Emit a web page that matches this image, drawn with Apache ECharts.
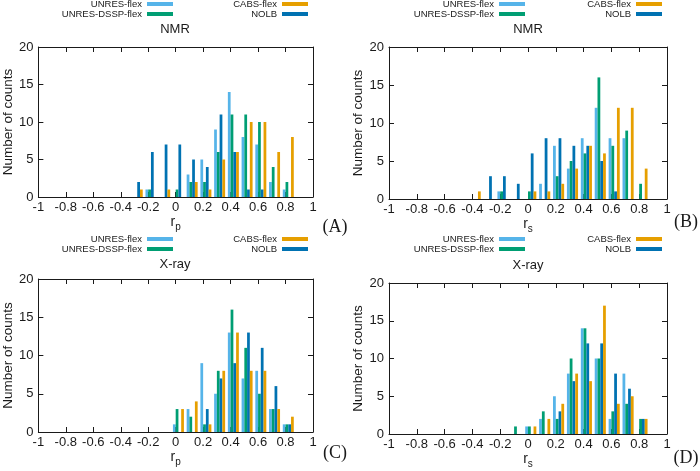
<!DOCTYPE html>
<html>
<head>
<meta charset="utf-8">
<script src="https://cdn.jsdelivr.net/npm/echarts@6/dist/echarts.min.js"></script>
<style>html,body{margin:0;padding:0;background:#fff}#c{width:700px;height:471px}</style>
</head>
<body>
<div id="c"></div>
<script>
// ---- data (bin start values and counts) ----
const seriesNames = ['UNRES-flex', 'UNRES-DSSP-flex', 'NOLB', 'CABS-flex'];
const xTicks = [-1, -0.8, -0.6, -0.4, -0.2, 0, 0.2, 0.4, 0.6, 0.8, 1];

// (A) NMR, r_p
const binsA = [-0.3, -0.2, -0.1, 0, 0.1, 0.2, 0.3, 0.4, 0.5, 0.6, 0.7, 0.8];
const unresA = [0, 1, 0, 0, 3, 5, 9, 14, 8, 7, 2, 1];
const dsspA  = [0, 1, 0, 1, 2, 2, 6, 11, 11, 10, 4, 2];
const nolbA  = [2, 6, 7, 7, 5, 4, 11, 6, 1, 1, 0, 0];
const cabsA  = [1, 0, 1, 0, 2, 1, 5, 6, 10, 10, 6, 8];

// (B) NMR, r_s
const binsB = [-0.4, -0.3, -0.2, -0.1, 0, 0.1, 0.2, 0.3, 0.4, 0.5, 0.6, 0.7, 0.8];
const unresB = [0, 0, 1, 0, 0, 2, 7, 4, 8, 12, 8, 8, 0];
const dsspB  = [0, 0, 1, 0, 1, 0, 3, 5, 6, 16, 7, 9, 2];
const nolbB  = [0, 3, 3, 2, 6, 8, 8, 7, 7, 5, 1, 0, 0];
const cabsB  = [1, 0, 0, 0, 1, 1, 2, 4, 7, 6, 12, 12, 4];

// (C) X-ray, r_p
const binsC = [0, 0.1, 0.2, 0.3, 0.4, 0.5, 0.6, 0.7, 0.8];
const unresC = [1, 3, 9, 5, 13, 7, 8, 3, 1];
const dsspC  = [3, 2, 1, 8, 16, 11, 5, 3, 1];
const nolbC  = [0, 0, 3, 7, 9, 13, 11, 6, 1];
const cabsC  = [3, 4, 1, 8, 13, 8, 8, 3, 2];

// (D) X-ray, r_s
const binsD = [-0.1, 0, 0.1, 0.2, 0.3, 0.4, 0.5, 0.6, 0.7, 0.8];
const unresD = [0, 1, 2, 5, 8, 14, 10, 2, 8, 0];
const dsspD  = [1, 1, 3, 2, 10, 14, 10, 3, 4, 2];
const nolbD  = [0, 0, 0, 3, 7, 12, 12, 8, 6, 2];
const cabsD  = [0, 1, 2, 4, 8, 7, 17, 4, 5, 2];

// ---- styling / layout ----
const colors = {'UNRES-flex': '#56B4E9', 'UNRES-DSSP-flex': '#009E73', 'NOLB': '#0072B2', 'CABS-flex': '#E69F00'};
const BAR_SHIFT = 0.02; // group offset of bars relative to bin start
const FONT = "'Liberation Sans', Arial, sans-serif";
const INK = '#1a1a1a';

const panels = [
  {bins: binsA, vals: [unresA, dsspA, nolbA, cabsA], grid: {left: 37, top: 47, width: 276, height: 150}, title: 'NMR', sub: 'p', tag: '(A)', titlePos: [175, 29], tagPos: [335, 227], legTop: -1, legR: [527, 392]},
  {bins: binsB, vals: [unresB, dsspB, nolbB, cabsB], grid: {left: 389, top: 47, width: 278, height: 152}, title: 'NMR', sub: 's', tag: '(B)', titlePos: [528, 29], tagPos: [686, 222], legTop: -1, legR: [175, 38]},
  {bins: binsC, vals: [unresC, dsspC, nolbC, cabsC], grid: {left: 37, top: 279, width: 276, height: 153}, title: 'X-ray', sub: 'p', tag: '(C)', titlePos: [175, 264], tagPos: [335, 453], legTop: 234, legR: [527, 392]},
  {bins: binsD, vals: [unresD, dsspD, nolbD, cabsD], grid: {left: 389, top: 283, width: 278, height: 151}, title: 'X-ray', sub: 's', tag: '(D)', titlePos: [528, 265], tagPos: [686, 458], legTop: 234, legR: [175, 38]}
];

const grid = [], xAxis = [], yAxis = [], series = [], legend = [], graphic = [];
const lineStyle = {color: INK, width: 1};

panels.forEach((p, gi) => {
  grid.push(Object.assign({}, p.grid));
  // bottom x axis (with labels)
  xAxis.push({
    type: 'value', gridIndex: gi, min: -1, max: 1, interval: 0.2, position: 'bottom',
    axisLine: {show: true, onZero: false, lineStyle},
    axisTick: {show: true, inside: true, length: 5, lineStyle},
    axisLabel: {show: true, margin: 4, fontSize: 13, color: INK, fontFamily: FONT,
      customValues: xTicks},
    splitLine: {show: false},
    name: '{r|r}{s|' + p.sub + '}', nameLocation: 'middle', nameGap: 12,
    nameTextStyle: {rich: {
      r: {fontSize: 14, fontFamily: FONT, color: INK, verticalAlign: 'top', lineHeight: 14},
      s: {fontSize: 10, fontFamily: FONT, color: INK, verticalAlign: 'top', padding: [7, 0, 0, 0], lineHeight: 10}
    }}
  });
  // top mirror axis
  xAxis.push({
    type: 'value', gridIndex: gi, min: -1, max: 1, interval: 0.2, position: 'top',
    axisLine: {show: true, onZero: false, lineStyle},
    axisTick: {show: true, inside: true, length: 5, lineStyle},
    axisLabel: {show: false}, splitLine: {show: false}
  });
  yAxis.push({
    type: 'value', gridIndex: gi, min: 0, max: 20, interval: 5, position: 'left',
    axisLine: {show: true, onZero: false, lineStyle},
    axisTick: {show: true, inside: true, length: 5, lineStyle},
    axisLabel: {show: true, margin: 5, fontSize: 13, color: INK, fontFamily: FONT},
    splitLine: {show: false},
    name: 'Number of counts', nameLocation: 'middle', nameRotate: 90, nameGap: 22,
    nameTextStyle: {fontSize: 13.5, color: INK, fontFamily: FONT}
  });
  yAxis.push({
    type: 'value', gridIndex: gi, min: 0, max: 20, interval: 5, position: 'right',
    axisLine: {show: true, onZero: false, lineStyle},
    axisTick: {show: true, inside: true, length: 5, lineStyle},
    axisLabel: {show: false}, splitLine: {show: false}
  });
  seriesNames.forEach((name, si) => {
    series.push({
      type: 'bar', name, xAxisIndex: gi * 2, yAxisIndex: gi * 2,
      data: p.bins.map((b, i) => [b + BAR_SHIFT, p.vals[si][i]]),
      barWidth: '20%', barGap: '0%',
      itemStyle: {color: colors[name]},
      emphasis: {disabled: true}
    });
  });
  const legBase = {
    orient: 'vertical', align: 'right', top: p.legTop, padding: 0, itemGap: 0,
    itemWidth: 26, itemHeight: 4, icon: 'rect', selectedMode: false,
    textStyle: {fontSize: 9.5, color: INK, fontFamily: FONT, lineHeight: 10}
  };
  legend.push(Object.assign({}, legBase, {right: p.legR[0], data: ['UNRES-flex', 'UNRES-DSSP-flex']}));
  legend.push(Object.assign({}, legBase, {right: p.legR[1], data: ['CABS-flex', 'NOLB']}));
  graphic.push({type: 'text', x: p.titlePos[0], y: p.titlePos[1],
    style: {text: p.title, align: 'center', verticalAlign: 'middle', fontSize: 13, fontFamily: FONT, fill: INK}});
  graphic.push({type: 'text', x: p.tagPos[0], y: p.tagPos[1],
    style: {text: p.tag, align: 'center', verticalAlign: 'middle', fontSize: 18, fontFamily: "'Liberation Serif', 'Times New Roman', serif", fill: INK}});
});

const chart = echarts.init(document.getElementById('c'), null, {renderer: 'canvas'});
chart.setOption({
  animation: false,
  backgroundColor: '#fff',
  grid, xAxis, yAxis, series, legend, graphic
});
</script>
</body>
</html>
